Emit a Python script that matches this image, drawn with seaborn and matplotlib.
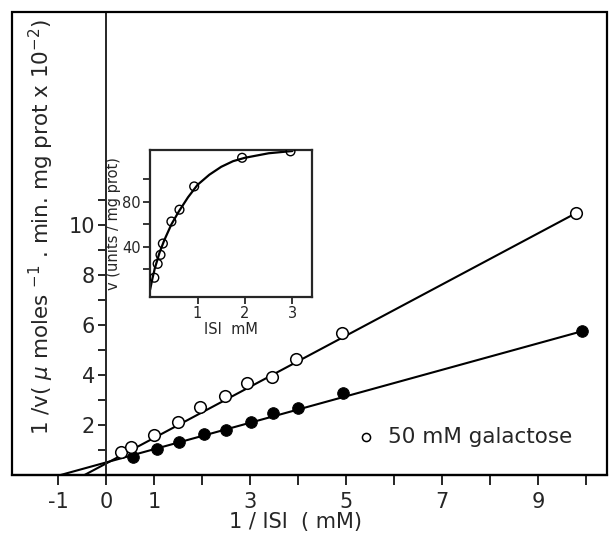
import numpy as np
import pandas as pd
import matplotlib
matplotlib.use("Agg")
import matplotlib.pyplot as plt
from matplotlib.patches import Rectangle
import seaborn as sns

# Lineweaver-Burk data
inv_s_ctrl = [0.57, 1.07, 1.52, 2.05, 2.51, 3.03, 3.49, 4.01, 4.94, 9.93]
inv_v_ctrl = [0.73, 1.03, 1.32, 1.63, 1.80, 2.13, 2.47, 2.67, 3.27, 5.75]
inv_s_gal = [0.31, 0.53, 0.99, 1.49, 1.96, 2.48, 2.93, 3.45, 3.96, 4.91, 9.80]
inv_v_gal = [0.93, 1.13, 1.60, 2.13, 2.71, 3.17, 3.66, 3.93, 4.63, 5.67, 10.47]

# fitted lines (end points)
line_ctrl_x = [-0.95, 9.93]
line_ctrl_y = [0.0, 5.75]
line_gal_x = [-0.45, 9.80]
line_gal_y = [0.0, 10.47]

# inset: v vs [S]
s_pts = [0.09, 0.16, 0.22, 0.27, 0.45, 0.62, 0.93, 1.94, 2.96]
v_pts = [12.7, 25, 33, 43, 62.5, 73, 93.6, 119, 124.7]
curve_s = [0.0, 0.05, 0.1, 0.2, 0.3, 0.45, 0.6, 0.8, 1.0, 1.25, 1.5, 1.75, 2.0, 2.5, 3.0]
curve_v = [2, 12, 21, 35, 46, 60, 71, 84, 95, 104, 111, 116, 119, 123, 125]

xticks = [-1, 0, 1, 2, 3, 4, 5, 6, 7, 8, 9, 10]
xtick_labels = ["-1", "0", "1", "", "3", "", "5", "", "7", "", "9", ""]
yticks_major = [2, 4, 6, 8, 10]
yticks_minor = [1, 3, 5, 7, 9, 11]

sns.set_style("ticks")
plt.rcParams["font.family"] = ["DejaVu Sans"]
plt.rcParams["axes.linewidth"] = 1.6

ctrl = pd.DataFrame({"x": inv_s_ctrl, "y": inv_v_ctrl})
gal = pd.DataFrame({"x": inv_s_gal, "y": inv_v_gal})

fig = plt.figure(figsize=(6.1, 5.47), dpi=100)
ax = fig.add_axes([0.0197, 0.1316, 0.9753, 0.8464])

sns.lineplot(x=line_ctrl_x, y=line_ctrl_y, ax=ax, color="black", lw=1.5, sort=False)
sns.lineplot(x=line_gal_x, y=line_gal_y, ax=ax, color="black", lw=1.5, sort=False)
sns.scatterplot(data=ctrl, x="x", y="y", ax=ax, color="black", s=70,
                edgecolor="black", zorder=3)
sns.scatterplot(data=gal, x="x", y="y", ax=ax, facecolor="white", s=70,
                edgecolor="black", linewidth=1.1, zorder=3, label="50 mM galactose")

ax.set_xlim(-1.96, 10.44)
ax.set_ylim(0, 18.5)

# y axis runs through x = 0, box drawn round the whole plot
ax.spines["left"].set_position(("data", 0))
ax.spines["left"].set_linewidth(1.4)
for side in ["top", "right"]:
    ax.spines[side].set_visible(False)
ax.add_patch(Rectangle((0, 0), 1, 1, transform=ax.transAxes, fill=False,
                       lw=1.6, ec="black", clip_on=False, zorder=5))

ax.set_xticks(xticks)
ax.set_xticklabels(xtick_labels, fontsize=15)
ax.set_yticks(yticks_major)
ax.set_yticklabels([str(t) for t in yticks_major], fontsize=15)
ax.set_yticks(yticks_minor, minor=True)
ax.tick_params(axis="x", direction="out", length=7, width=1.4, pad=5)
ax.tick_params(axis="y", which="both", direction="out", length=6, width=1.4, pad=2)

ax.set_xlabel("1 / ISI  ( mM)", fontsize=15)
ax.xaxis.set_label_coords(0.476, -0.08)
ax.set_ylabel(r"1 /v( $\mu$ moles $^{-1}$ . min. mg prot x 10$^{-2}$)", fontsize=15.5)
ax.yaxis.set_label_coords(0.074, 0.535)

leg = ax.legend(loc="center left", bbox_to_anchor=(0.545, 0.082), frameon=False,
                fontsize=15.5, markerscale=0.7, handletextpad=0.5, handlelength=1.0)

# inset
ins = fig.add_axes([0.246, 0.457, 0.266, 0.269])
sns.lineplot(x=curve_s, y=curve_v, ax=ins, color="black", lw=1.6)
sns.scatterplot(x=s_pts, y=v_pts, ax=ins, facecolor="none", edgecolor="black",
                s=40, linewidth=1.0, zorder=3)
ins.set_xlim(0, 3.42)
ins.set_ylim(-4.4, 126)
ins.set_xticks([1, 2, 3])
ins.set_xticklabels(["1", "2", "3"], fontsize=10.5)
ins.set_yticks([20, 40, 60, 80, 100])
ins.set_yticklabels(["", "40", "", "80", ""], fontsize=10.5)
ins.tick_params(direction="out", length=5, width=1.3, pad=1.5)
for sp in ins.spines.values():
    sp.set_linewidth(1.6)
ins.set_xlabel("ISI  mM", fontsize=10.5, labelpad=1)
ins.set_ylabel("v (units / mg prot)", fontsize=10.5, labelpad=1)

fig.savefig("out.png", dpi=100)
